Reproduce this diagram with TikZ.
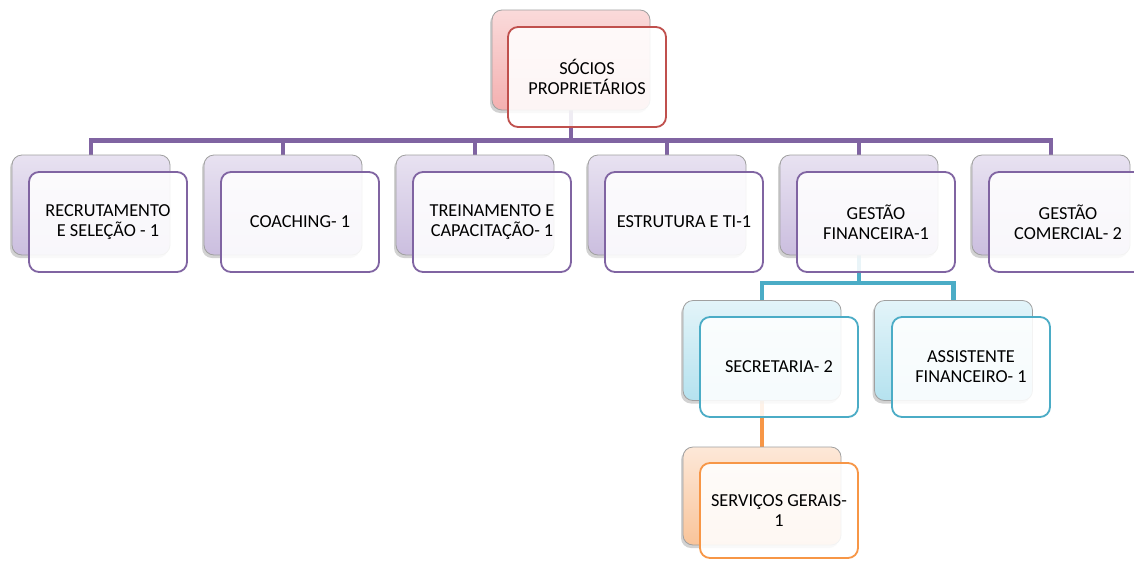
\documentclass[tikz,border=0pt]{standalone}
\usepackage{fontspec}
\setmainfont{Carlito}
\usetikzlibrary{shadows}
\definecolor{cpurple}{HTML}{8064A2}
\definecolor{cred}{HTML}{C0504D}
\definecolor{ccyan}{HTML}{4BACC6}
\definecolor{corange}{HTML}{F79646}
\definecolor{bpurpleA}{HTML}{E8E2F1}
\definecolor{bpurpleB}{HTML}{CBBEDF}
\definecolor{bredA}{HTML}{FADADA}
\definecolor{bredB}{HTML}{F4B0B0}
\definecolor{bcyanA}{HTML}{E3F4F9}
\definecolor{bcyanB}{HTML}{B5E2EF}
\definecolor{borangeA}{HTML}{FDE8D8}
\definecolor{borangeB}{HTML}{F9C49A}
\definecolor{bgray}{HTML}{A0A0A0}
\tikzset{
  backbox/.style={rectangle, rounded corners=10pt, draw=bgray, line width=0.8pt,
    minimum width=158pt, minimum height=100pt, inner sep=0pt,
    drop shadow={shadow xshift=-2pt, shadow yshift=-3pt, opacity=0.35, fill=gray}},
  frontbox/.style={rectangle, rounded corners=10pt, line width=1.8pt,
    minimum width=158pt, minimum height=100pt, inner sep=0pt, align=center,
    fill=white, fill opacity=0.88, text opacity=1,
    font=\fontsize{18.3}{20}\selectfont},
  purpleback/.style={backbox, top color=bpurpleA, bottom color=bpurpleB},
  redback/.style={backbox, top color=bredA, bottom color=bredB},
  cyanback/.style={backbox, top color=bcyanA, bottom color=bcyanB},
  orangeback/.style={backbox, top color=borangeA, bottom color=borangeB},
  purplefront/.style={frontbox, draw=cpurple},
  redfront/.style={frontbox, draw=cred},
  cyanfront/.style={frontbox, draw=ccyan},
  orangefront/.style={frontbox, draw=corange},
  conn/.style={line width=4.8pt},
  posbox/.style={minimum width=158pt, minimum height=100pt, inner sep=0pt},
}
\begin{document}
\begin{tikzpicture}[x=1pt,y=-1pt]
\useasboundingbox (0,0) rectangle (1134,560);
\clip (0,0) rectangle (1134,560);
\fill[white] (0,0) rectangle (1134,560);

\coordinate (bus1) at (0,140.5);
\coordinate (bus2) at (0,283);

% back boxes (drawn after connectors, positions first)
\path (571,60) node[posbox] (tbpos) {};
\foreach \i in {1,...,6} {
  \path ({91+192*(\i-1)},205) node[posbox] (p\i) {};
}
\path (762,350.5) node[posbox] (pA) {};
\path (953.5,350.5) node[posbox] (pB) {};
\path (762,496) node[posbox, minimum height=98pt] (pC) {};

% connectors
\draw[conn, cpurple] (tbpos.south) -- (tbpos.south |- bus1);
\draw[conn, cpurple, line join=miter] (p1.north) -- (p1.north |- bus1) -- (p6.north |- bus1) -- (p6.north);
\foreach \i in {2,...,5} { \draw[conn, cpurple] (p\i.north) -- (p\i.north |- bus1); }
\draw[conn, ccyan] (p5.south) -- (p5.south |- bus2);
\draw[conn, ccyan, line join=miter] (pA.north) -- (pA.north |- bus2) -- (pB.north |- bus2) -- (pB.north);
\draw[conn, corange] (pA.south) -- (pC.north);

% back boxes
\node[redback] (tb) at (571,60) {};
\foreach \i in {1,...,6} {
  \node[purpleback] (b\i) at ({91+192*(\i-1)},205) {};
}
\node[cyanback] (bA) at (762,350.5) {};
\node[cyanback] (bB) at (953.5,350.5) {};
\node[orangeback, minimum height=98pt] (bC) at (762,496) {};

% front boxes
\node[redfront] (tf) at (587,77) {SÓCIOS\\PROPRIETÁRIOS};
\node[purplefront] (f1) at (108,222) {RECRUTAMENTO\\E SELEÇÃO - 1};
\node[purplefront] (f2) at (300,222) {COACHING- 1};
\node[purplefront] (f3) at (492,222) {TREINAMENTO E\\CAPACITAÇÃO- 1};
\node[purplefront] (f4) at (684,222) {ESTRUTURA E TI-1};
\node[purplefront] (f5) at (876,222) {GESTÃO\\FINANCEIRA-1};
\node[purplefront] (f6) at (1068,222) {GESTÃO\\COMERCIAL- 2};
\node[cyanfront] (fA) at (779,367) {SECRETARIA- 2};
\node[cyanfront] (fB) at (971,367) {ASSISTENTE\\FINANCEIRO- 1};
\node[orangefront, minimum height=95pt] (fC) at (779,510.5) {SERVIÇOS GERAIS-\\1};
\end{tikzpicture}
\end{document}
